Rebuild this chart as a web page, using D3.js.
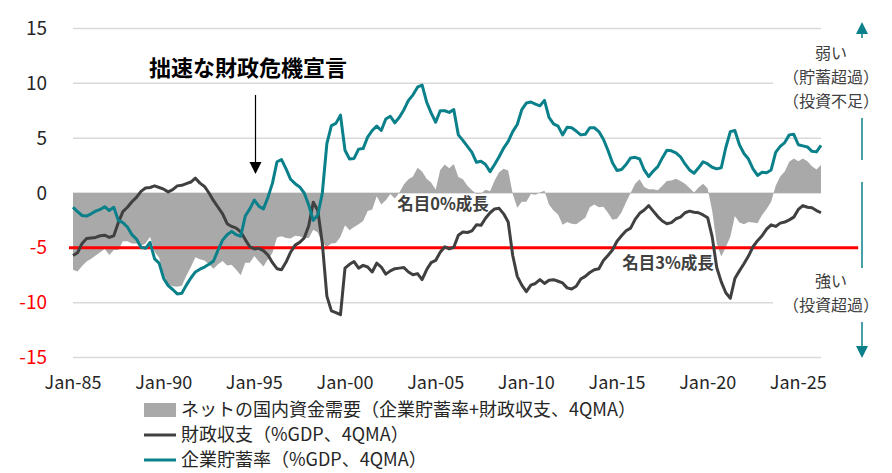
<!DOCTYPE html>
<html>
<head>
<meta charset="utf-8">
<script src="https://cdn.jsdelivr.net/npm/d3@7/dist/d3.min.js"></script>
<style>
  body { margin: 0; background: #fff; }
  svg { font-family: "Noto Sans CJK JP", "Noto Sans", sans-serif; }
</style>
</head>
<body>
<svg id="chart" width="892" height="473"></svg>
<script>
// quarterly data, 1985Q1 .. 2026Q2
const startYear = 1985;

// 財政収支（%GDP、4QMA）
const fiscalBalance = [
  -5.7, -5.45, -4.6, -4.15, -4.1, -4.05, -3.9, -3.85, -4.05, -3.9,
  -2.7, -1.7, -1.3, -0.8, -0.4, 0.15, 0.45, 0.5, 0.65, 0.5,
  0.35, 0.1, 0.3, 0.65, 0.7, 0.85, 1.0, 1.35, 0.9, 0.6,
  0.0, -0.7, -1.3, -1.9, -2.8, -3.05, -3.2, -3.55, -4.25, -4.9,
  -5.1,
  -5.05, -5.25, -5.65, -6.35, -6.9, -7.0, -6.3, -5.4, -4.75, -4.5,
  -4.1, -3.0, -0.85, -1.6, -4.6, -9.4, -10.75, -10.9, -11.1, -6.85,
  -6.5, -6.25, -6.85, -6.6, -6.75, -7.2, -6.4, -6.75, -7.4, -7.1,
  -6.9, -6.85, -6.8, -7.2, -7.45, -7.35, -7.9, -7.0, -6.35, -6.15,
  -5.4,
  -4.9, -5.1, -4.95, -3.85, -3.55, -3.6, -3.45, -2.9, -2.95, -2.3,
  -1.8, -1.45, -1.4, -1.9, -2.65, -5.7, -7.6, -8.4, -9.0, -8.4,
  -8.25, -7.9, -8.25, -7.95, -7.9, -8.05, -8.2, -8.65, -8.75, -8.5,
  -7.85, -7.6, -7.25, -7.0, -6.9, -6.15, -5.7, -5.2, -4.4, -3.9,
  -3.45,
  -3.2, -2.4, -1.85, -1.55, -1.15, -1.65, -2.15, -2.55, -2.8, -2.7,
  -2.35, -2.2, -1.8, -1.65, -1.75, -1.8, -2.0, -2.25, -4.0, -6.8,
  -8.1, -9.1, -9.6, -7.8, -7.1, -6.45, -5.75, -4.9, -4.35, -3.9,
  -3.3, -2.9, -3.05, -2.75, -2.65, -2.45, -2.2, -1.5, -1.15, -1.3,
  -1.35, -1.6, -1.8
];

// 企業貯蓄率（%GDP、4QMA）
const corpSaving = [
  -1.3, -1.7, -2.05, -2.1, -1.9, -1.65, -1.5, -1.25, -1.6, -1.3,
  -2.5, -2.7, -3.1, -3.8, -4.2, -4.95, -5.05, -4.5, -6.0, -6.4,
  -7.8, -8.45, -8.8, -9.2, -9.15, -8.4, -7.75, -7.2, -6.95, -6.75,
  -6.5, -6.2, -5.2, -4.3, -3.8, -3.5, -3.8, -3.95, -2.1, -1.45,
  -0.65,
  -1.2, -1.45, -0.4, 0.9, 2.85, 3.05, 2.2, 1.25, 0.85, 0.55,
  0.0, -1.1, -2.5, -2.0, 0.0, 4.5, 6.15, 6.35, 7.1, 3.9,
  3.1, 3.15, 4.0, 4.05, 5.1, 5.7, 6.1, 5.7, 6.75, 7.0,
  6.4, 6.9, 7.6, 8.45, 8.95, 9.65, 9.85, 8.3, 7.3, 6.45,
  7.5,
  7.5, 7.35, 7.6, 5.3, 4.8, 4.25, 3.7, 2.8, 2.9, 2.6,
  1.95, 2.6, 3.3, 4.1, 4.7, 5.6, 6.25, 7.6, 8.2, 8.3,
  8.1, 7.95, 8.45, 6.9, 6.3, 6.1, 5.3, 6.0, 5.95, 5.65,
  5.3, 5.35, 5.95, 5.95, 5.6, 4.9, 3.9, 2.75, 2.05, 2.15,
  2.6,
  3.2, 3.25, 3.1, 2.1, 1.5, 2.0, 2.4, 3.2, 3.9, 3.85,
  3.65, 3.3, 2.65, 2.1, 1.8, 2.3, 2.85, 2.65, 2.35, 2.2,
  2.3, 4.15, 5.6, 5.7, 4.4, 3.6, 3.1, 2.2, 1.6, 1.9,
  1.85, 2.1, 3.7, 4.25, 4.6, 5.3, 5.35, 4.4, 4.3, 4.2,
  3.8, 3.75, 4.35
];

const tickYears = [1985, 1990, 1995, 2000, 2005, 2010, 2015, 2020, 2025];
const tickLabels = ["Jan-85", "Jan-90", "Jan-95", "Jan-00", "Jan-05", "Jan-10", "Jan-15", "Jan-20", "Jan-25"];
const yTicks = [15, 10, 5, 0, -5, -10, -15];

const nominal3 = -5;              // 名目3%成長
const refSpan = [1984.78, 2028.3]; // red line runs past the plot edges

const legendNames = [
  "ネットの国内資金需要（企業貯蓄率+財政収支、4QMA）",
  "財政収支（%GDP、4QMA）",
  "企業貯蓄率（%GDP、4QMA）"
];

const colTeal = "#0a808a";
const colDark = "#404040";
const colArea = "#a9a9a9";

/* build rows: net = corporate saving + fiscal balance */
const rows = fiscalBalance.map((f, i) => ({
  t: startYear + i / 4,
  fiscal: f,
  corp: corpSaving[i],
  net: f + corpSaving[i],
}));

const svg = d3.select('#chart');

const x = d3.scaleLinear()
  .domain([startYear, startYear + (rows.length - 1) / 4])
  .range([73, 821]);
const y = d3.scaleLinear().domain([-15, 15]).range([357.5, 28.5]);

/* gridlines */
svg.append('g')
  .selectAll('line')
  .data(yTicks)
  .enter().append('line')
  .attr('x1', x.range()[0])
  .attr('x2', x.range()[1])
  .attr('y1', (d) => y(d))
  .attr('y2', (d) => y(d))
  .attr('stroke', '#d9d9d9')
  .attr('stroke-width', 1.5);

/* y labels, negatives in red */
svg.append('g')
  .selectAll('text')
  .data(yTicks)
  .enter().append('text')
  .attr('x', 47)
  .attr('y', (d) => y(d))
  .attr('dy', '0.35em')
  .attr('text-anchor', 'end')
  .attr('font-size', 19)
  .attr('fill', (d) => d < 0 ? '#ff0000' : '#262626')
  .text((d) => d);

/* x labels */
svg.append('g')
  .selectAll('text')
  .data(tickYears)
  .enter().append('text')
  .attr('x', (d) => x(d))
  .attr('y', 383)
  .attr('dy', '0.35em')
  .attr('text-anchor', 'middle')
  .attr('font-size', 18)
  .attr('fill', '#262626')
  .text((d, i) => tickLabels[i]);

/* net demand area */
svg.append('path')
  .datum(rows)
  .attr('fill', colArea)
  .attr('d', d3.area()
    .x((d) => x(d.t))
    .y0(y(0))
    .y1((d) => y(d.net)));

/* red reference line */
svg.append('line')
  .attr('x1', x(refSpan[0]))
  .attr('x2', x(refSpan[1]))
  .attr('y1', y(nominal3))
  .attr('y2', y(nominal3))
  .attr('stroke', '#ff0000')
  .attr('stroke-width', 3);

/* lines */
const series = [
  { key: 'fiscal', colour: colDark },
  { key: 'corp', colour: colTeal },
];
series.forEach((s) => {
  svg.append('path')
    .datum(rows)
    .attr('fill', 'none')
    .attr('stroke', s.colour)
    .attr('stroke-width', 3)
    .attr('stroke-linejoin', 'round')
    .attr('d', d3.line().x((d) => x(d.t)).y((d) => y(d[s.key])));
});

/* in-chart labels */
svg.append('text')
  .attr('x', 443).attr('y', 204).attr('dy', '0.35em')
  .attr('text-anchor', 'middle')
  .attr('font-size', 16.5).attr('font-weight', 'bold').attr('fill', '#404040')
  .text('名目0%成長');
svg.append('text')
  .attr('x', 668).attr('y', 263).attr('dy', '0.35em')
  .attr('text-anchor', 'middle')
  .attr('font-size', 16.5).attr('font-weight', 'bold').attr('fill', '#404040')
  .text('名目3%成長');

/* annotation with arrow */
svg.append('text')
  .attr('x', 248).attr('y', 68).attr('dy', '0.35em')
  .attr('text-anchor', 'middle')
  .attr('font-size', 22).attr('font-weight', 'bold').attr('fill', '#000')
  .text('拙速な財政危機宣言');
svg.append('line')
  .attr('x1', 255.5).attr('x2', 255.5).attr('y1', 95).attr('y2', 165)
  .attr('stroke', '#000').attr('stroke-width', 1.2);
svg.append('path')
  .attr('d', 'M249.5,162 L261.5,162 L255.5,174 Z')
  .attr('fill', '#000');

/* right side: weak / strong arrows */
const ax = 862;
svg.append('line').attr('x1', ax).attr('x2', ax).attr('y1', 32).attr('y2', 160)
  .attr('stroke', colTeal).attr('stroke-width', 1.5);
svg.append('path').attr('d', `M${ax - 6},34 L${ax + 6},34 L${ax},22 Z`).attr('fill', colTeal);
svg.append('line').attr('x1', ax).attr('x2', ax).attr('y1', 182).attr('y2', 348)
  .attr('stroke', colTeal).attr('stroke-width', 1.5);
svg.append('path').attr('d', `M${ax - 6},346 L${ax + 6},346 L${ax},358 Z`).attr('fill', colTeal);

const boxes = [
  { y0: 38, y1: 118, lines: [['弱い', 53], ['（貯蓄超過）', 77], ['（投資不足）', 101]] },
  { y0: 268, y1: 322, lines: [['強い', 281], ['（投資超過）', 305]] },
];
boxes.forEach((b) => {
  svg.append('rect')
    .attr('x', 773).attr('y', b.y0)
    .attr('width', 119).attr('height', b.y1 - b.y0)
    .attr('fill', '#fff');
  b.lines.forEach(([t, ty]) => {
    svg.append('text')
      .attr('x', 831).attr('y', ty).attr('dy', '0.35em')
      .attr('text-anchor', 'middle')
      .attr('font-size', 16).attr('fill', '#404040')
      .text(t);
  });
});

/* legend */
const legend = svg.append('g');
const ly = [410, 435, 460];
legendNames.forEach((name, i) => {
  if (i === 0) {
    legend.append('rect').attr('x', 144).attr('y', ly[i] - 7).attr('width', 32).attr('height', 14)
      .attr('fill', colArea);
  } else {
    legend.append('line').attr('x1', 144).attr('x2', 176).attr('y1', ly[i]).attr('y2', ly[i])
      .attr('stroke', i === 1 ? colDark : colTeal).attr('stroke-width', 3);
  }
  legend.append('text')
    .attr('x', 181).attr('y', ly[i]).attr('dy', '0.35em')
    .attr('font-size', 18).attr('fill', '#262626')
    .text(name);
});
</script>
</body>
</html>
